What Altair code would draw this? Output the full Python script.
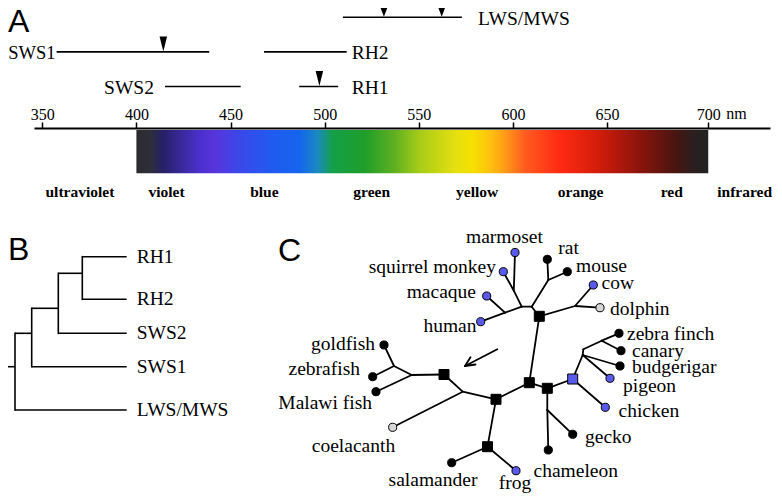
import altair as alt
import pandas as pd

# ---------------- Panel A: opsin sensitivity ranges (nm) ----------------
opsins = ["LWS/MWS", "SWS1", "RH2", "SWS2", "RH1"]
opsin_row = [0, 1, 1, 2, 2]
range_start_nm = [509.7, 357.6, 467.8, 415.2, 486.5]
range_end_nm = [572.9, 438.7, 511.7, 455.4, 507.2]

lmax_opsin = ["SWS1", "RH1", "LWS/MWS", "LWS/MWS"]
lmax_nm = [414.3, 497.2, 531.5, 562.2]

axis_ticks_nm = [350, 400, 450, 500, 550, 600, 650, 700]
color_names = ["ultraviolet", "violet", "blue", "green", "yellow", "orange", "red", "infrared"]
color_center_nm = [370, 416, 468, 525, 581, 636, 682, 718]

spectrum_start_nm = [400]
spectrum_end_nm = [700]

# ---------------- Panel B: opsin family tree ----------------
b_nodes = ["root", "n1", "LWS/MWS", "n2", "SWS1", "n3", "SWS2", "RH1", "RH2"]
b_parent = [None, "root", "root", "n1", "n1", "n2", "n2", "n3", "n3"]

# ---------------- Panel C: rhodopsin tree of species ----------------
species = ["marmoset", "squirrel monkey", "macaque", "human", "rat", "mouse", "cow",
           "dolphin", "zebra finch", "canary", "budgerigar", "pigeon", "chicken",
           "gecko", "chameleon", "frog", "salamander", "coelacanth", "Malawi fish",
           "zebrafish", "goldfish"]
species_group = ["blue", "blue", "blue", "blue", "black", "black", "blue",
                 "gray", "black", "black", "black", "blue", "blue",
                 "black", "black", "blue", "black", "gray", "black",
                 "black", "black"]
squares = ["S1", "S2", "S3", "S4", "S5", "S6", "S7"]
square_group = ["black", "black", "black", "black", "black", "blue", "black"]
c_edges = [("marmoset", "Jms"), ("squirrel monkey", "Jms"), ("Jms", "Jp"),
           ("human", "Jhm"), ("macaque", "Jhm"), ("Jhm", "Jp"), ("Jp", "Jr"),
           ("rat", "Jrod"), ("mouse", "Jrod"), ("Jrod", "Jr"), ("Jr", "S1"),
           ("S1", "Jcd"), ("cow", "Jcd"), ("dolphin", "Jcd"), ("S1", "S3"),
           ("S3", "S5"), ("S3", "S4"), ("S5", "S6"), ("S6", "chicken"),
           ("S6", "Jbb"), ("Jbb", "Jb"), ("Jb", "Jzc"), ("Jzc", "zebra finch"),
           ("Jzc", "canary"), ("Jbb", "budgerigar"), ("Jbb", "pigeon"),
           ("S5", "Jg"), ("Jg", "chameleon"), ("Jg", "gecko"), ("S4", "S7"),
           ("S7", "salamander"), ("S7", "frog"), ("S4", "Jc"), ("Jc", "coelacanth"),
           ("Jc", "S2"), ("S2", "Jf"), ("Jf", "Malawi fish"), ("Jf", "Jgz"),
           ("Jgz", "goldfish"), ("Jgz", "zebrafish"),
           ("arrow_tail", "arrow_tip"), ("arrow_tip", "barb1"), ("arrow_tip", "barb2")]

# ---------------- layout (positions in figure pixels) ----------------
a_label_nm = {"LWS/MWS": 581.5, "SWS1": 357.0, "RH2": 514.4, "SWS2": 409.3, "RH1": 514.4}
a_label_align = {"LWS/MWS": "left", "SWS1": "right", "RH2": "left", "SWS2": "right", "RH1": "left"}
a_label_size = {"LWS/MWS": 19.5, "SWS1": 18.5, "RH2": 19.5, "SWS2": 19.5, "RH1": 19.5}
b_layout = {"root": (15, 366.7), "n1": (31.7, 333.3), "LWS/MWS": (126.7, 410),
            "n2": (58.3, 308.3), "SWS1": (126.7, 366.7), "n3": (82.3, 273.3),
            "SWS2": (126.7, 333.3), "RH1": (126.7, 256.7), "RH2": (126.7, 299.3)}
b_root_stub_x = 6.7
b_label_x = 136.7
c_layout = {
    "marmoset": (515, 252.5), "squirrel monkey": (503.3, 271.7), "macaque": (486.7, 296),
    "human": (480.7, 321.7), "rat": (547.3, 259.3), "mouse": (567.3, 271.7),
    "cow": (593.3, 285), "dolphin": (600, 307.7), "zebra finch": (619, 333.3),
    "canary": (621, 350.7), "budgerigar": (620, 366), "pigeon": (610, 378.3),
    "chicken": (605.3, 407.3), "gecko": (572.7, 434.3), "chameleon": (548.3, 450),
    "frog": (516, 470.7), "salamander": (451.7, 462.7), "coelacanth": (392.7, 427.3),
    "Malawi fish": (376, 391.7), "zebrafish": (372.7, 376.7), "goldfish": (384, 345),
    "S1": (539.3, 316.3), "S2": (444, 374.5), "S3": (529.3, 382.7), "S4": (496, 399.3),
    "S5": (547.3, 388.3), "S6": (572.7, 379), "S7": (487.5, 446.7),
    "Jms": (513.8, 290.7), "Jhm": (505, 312.7), "Jp": (521.7, 306.7), "Jr": (531.7, 306.7),
    "Jrod": (548.3, 280), "Jcd": (575, 306), "Jb": (583.3, 349.3), "Jzc": (601.7, 340.7),
    "Jbb": (582.7, 355), "Jg": (547.3, 410), "Jc": (462.7, 391.7), "Jf": (411.7, 375),
    "Jgz": (394, 366),
    "arrow_tail": (497.3, 349.3), "arrow_tip": (465, 366), "barb1": (475.5, 364.5),
    "barb2": (470.5, 357.3),
}
c_label = {
    "marmoset": (504.5, 237.2, "center"), "squirrel monkey": (496, 267, "right"),
    "macaque": (476, 292, "right"), "human": (476.5, 326, "right"),
    "rat": (558.3, 248, "left"), "mouse": (576, 266, "left"), "cow": (601.5, 283, "left"),
    "dolphin": (610, 308.5, "left"), "zebra finch": (627, 334, "left"),
    "canary": (632, 350.5, "left"), "budgerigar": (632, 367, "left"),
    "pigeon": (623, 386, "left"), "chicken": (618.5, 410.5, "left"),
    "gecko": (585, 436.5, "left"), "chameleon": (533.5, 470.5, "left"),
    "frog": (515, 483.2, "center"), "salamander": (433, 479.5, "center"),
    "coelacanth": (353.5, 446, "center"), "Malawi fish": (372, 402.5, "right"),
    "zebrafish": (360, 368.5, "right"), "goldfish": (375, 343.5, "right"),
}
panel_letters = ["A", "B", "C"]
panel_letter_xy = [(8, 32), (8, 260), (278, 261)]

SERIF = "Liberation Serif"
SANS = "Liberation Sans"
LABEL_SIZE = 19.5
BLUE = "#5a5aea"
GRAY = "#d6d6d6"
LINE_W = 1.8

# ---------------- scales ----------------
PX = alt.Scale(domain=[8, 774], range=[0, 766], nice=False, zero=False)
PY = alt.Scale(domain=[8, 493], range=[0, 485], nice=False, zero=False)
NM = alt.Scale(domain=[345.6, 650, 730.5], range=[26, 599, 762], nice=False, zero=False)
ROW = alt.Scale(domain=[0, 2], range=[9.3, 78.5], nice=False, zero=False)
GROUP = alt.Scale(domain=["blue", "black", "gray"], range=[BLUE, "black", GRAY])


def xpx(f):
    return alt.X(f, type="quantitative", scale=PX, axis=None)


def ypx(f):
    return alt.Y(f, type="quantitative", scale=PY, axis=None)


layers = []

# ---- Panel A ----
rng = pd.DataFrame({"opsin": opsins, "row": opsin_row, "start": range_start_nm, "end": range_end_nm})
rng["lab_nm"] = rng["opsin"].map(a_label_nm)
rng["align"] = rng["opsin"].map(a_label_align)
rng["fs"] = rng["opsin"].map(a_label_size)

layers.append(alt.Chart(rng).mark_rule(color="black", strokeWidth=1.6).encode(
    x=alt.X("start:Q", scale=NM, axis=None), x2="end:Q",
    y=alt.Y("row:Q", scale=ROW, axis=None)))

for al in ["left", "right"]:
    for fs in sorted(set(a_label_size.values())):
        sub = rng[(rng["align"] == al) & (rng["fs"] == fs)]
        if len(sub) == 0:
            continue
        layers.append(alt.Chart(sub).mark_text(
            align=al, baseline="middle", font=SERIF, fontSize=fs, color="black", dy=1.5).encode(
            x=alt.X("lab_nm:Q", scale=NM, axis=None),
            y=alt.Y("row:Q", scale=ROW, axis=None), text="opsin:N"))

tri = pd.DataFrame({"opsin": lmax_opsin, "lmax": lmax_nm})
tri["row"] = tri["opsin"].map(dict(zip(opsins, opsin_row)))
# the top row sits close to the page edge: a shorter arrowhead keeps it whole
layers.append(alt.Chart(tri[tri["row"] > 0]).mark_point(
    shape="M-0.5,-2L0.5,-2L0,0Z", size=225, filled=True, color="black", opacity=1, yOffset=-0.5).encode(
    x=alt.X("lmax:Q", scale=NM, axis=None), y=alt.Y("row:Q", scale=ROW, axis=None)))
layers.append(alt.Chart(tri[tri["row"] == 0]).mark_point(
    shape="M-0.75,-2L0.75,-2L0,0Z", size=88, filled=True, color="black", opacity=1, yOffset=-0.5).encode(
    x=alt.X("lmax:Q", scale=NM, axis=None), y=alt.Y("row:Q", scale=ROW, axis=None)))

stops = [(0.000, "#2b2b2e"), (0.025, "#2e2e3a"), (0.046, "#262066"), (0.110, "#4a30cc"),
         (0.137, "#5834dc"), (0.180, "#3a48ea"), (0.242, "#1f5cf0"), (0.285, "#1565ee"),
         (0.317, "#1a8ac0"), (0.343, "#14a048"), (0.399, "#1f9e2a"), (0.452, "#60b020"),
         (0.496, "#a8cc18"), (0.559, "#e6e010"), (0.588, "#f5e000"), (0.620, "#ffc010"),
         (0.646, "#ff9818"), (0.681, "#ff5a20"), (0.741, "#ff2a12"), (0.811, "#d01c0a"),
         (0.881, "#8a140c"), (0.942, "#4a1510"), (0.977, "#282020"), (1.000, "#222222")]
grad = alt.Gradient(gradient="linear", x1=0, x2=1, y1=0, y2=0,
                    stops=[alt.GradientStop(offset=o, color=c) for o, c in stops])
spec = pd.DataFrame({"start": spectrum_start_nm, "end": spectrum_end_nm, "top": [130], "bottom": [173.3]})
layers.append(alt.Chart(spec).mark_rect(fill=grad).encode(
    x=alt.X("start:Q", scale=NM,
            axis=alt.Axis(orient="top", offset=-120, values=axis_ticks_nm, title=None,
                          grid=False, domainColor="black", domainWidth=2, tickColor="black",
                          tickWidth=1.5, tickSize=6, labelFont=SERIF, labelFontSize=16,
                          labelColor="black", labelBaseline="alphabetic", labelPadding=3,
                          labelAngle=0, labelFlush=False, labelOverlap=False, format="d")),
    x2="end:Q", y=ypx("top"), y2="bottom:Q"))

layers.append(alt.Chart(pd.DataFrame({"nm": [700], "y": [119.3], "t": ["nm"]})).mark_text(
    align="left", baseline="alphabetic", font=SERIF, fontSize=16, color="black", dx=18).encode(
    x=alt.X("nm:Q", scale=NM, axis=None), y=ypx("y"), text="t:N"))

cl = pd.DataFrame({"name": color_names, "nm": color_center_nm, "y": 191.7})
layers.append(alt.Chart(cl).mark_text(
    align="center", baseline="middle", font=SERIF, fontSize=15.5, fontWeight="bold", color="black").encode(
    x=alt.X("nm:Q", scale=NM, axis=None), y=ypx("y"), text="name:N"))

# ---- Panel letters ----
pl = pd.DataFrame({"t": panel_letters, "x": [p[0] for p in panel_letter_xy], "y": [p[1] for p in panel_letter_xy]})
layers.append(alt.Chart(pl).mark_text(
    align="left", baseline="alphabetic", font=SANS, fontSize=32, color="black").encode(
    x=xpx("x"), y=ypx("y"), text="t:N"))

# ---- Panel B ----
b_rows = []
for node, par in zip(b_nodes, b_parent):
    cx, cy = b_layout[node]
    if par is None:
        b_rows.append({"x": b_root_stub_x, "x2": cx, "y": cy, "y2": cy})
    else:
        px_, py_ = b_layout[par]
        b_rows.append({"x": px_, "x2": cx, "y": cy, "y2": cy})
for node in b_nodes:
    kids = [b_layout[n][1] for n, p in zip(b_nodes, b_parent) if p == node]
    if kids:
        x0 = b_layout[node][0]
        b_rows.append({"x": x0, "x2": x0, "y": min(kids) - 0.8, "y2": max(kids) + 0.8})
layers.append(alt.Chart(pd.DataFrame(b_rows)).mark_rule(color="black", strokeWidth=1.6).encode(
    x=xpx("x"), x2="x2:Q", y=ypx("y"), y2="y2:Q"))

leaves = [n for n in b_nodes if n not in b_parent]
bl = pd.DataFrame({"t": leaves, "x": b_label_x, "y": [b_layout[n][1] for n in leaves]})
layers.append(alt.Chart(bl).mark_text(
    align="left", baseline="middle", font=SERIF, fontSize=LABEL_SIZE, color="black").encode(
    x=xpx("x"), y=ypx("y"), text="t:N"))

# ---- Panel C ----
ce = pd.DataFrame([{"x": c_layout[a][0], "y": c_layout[a][1], "x2": c_layout[b][0], "y2": c_layout[b][1]}
                   for a, b in c_edges])
layers.append(alt.Chart(ce).mark_rule(color="black", strokeWidth=LINE_W, strokeCap="round").encode(
    x=xpx("x"), x2="x2:Q", y=ypx("y"), y2="y2:Q"))

sq = pd.DataFrame({"n": squares, "g": square_group,
                   "x": [c_layout[s][0] for s in squares], "y": [c_layout[s][1] for s in squares]})
layers.append(alt.Chart(sq).mark_point(shape="square", size=100, filled=True, stroke="black",
                                        strokeWidth=1, opacity=1).encode(
    x=xpx("x"), y=ypx("y"), fill=alt.Fill("g:N", scale=GROUP, legend=None)))

sp = pd.DataFrame({"n": species, "g": species_group,
                   "x": [c_layout[s][0] for s in species], "y": [c_layout[s][1] for s in species]})
layers.append(alt.Chart(sp).mark_point(shape="circle", size=66, filled=True, stroke="black",
                                        strokeWidth=1, opacity=1).encode(
    x=xpx("x"), y=ypx("y"), fill=alt.Fill("g:N", scale=GROUP, legend=None)))

lab = pd.DataFrame([{"t": s, "x": c_label[s][0], "y": c_label[s][1], "al": c_label[s][2]} for s in species])
for al in ["left", "right", "center"]:
    layers.append(alt.Chart(lab[lab["al"] == al]).mark_text(
        align=al, baseline="middle", font=SERIF, fontSize=LABEL_SIZE, color="black").encode(
        x=xpx("x"), y=ypx("y"), text="t:N"))

chart = alt.layer(*layers).resolve_scale(
    x="independent", y="independent", fill="independent"
).properties(
    width=766, height=485, padding=0, autosize=alt.AutoSizeParams(type="none"), background="white"
).configure_view(stroke=None)

chart.save("out.html", embed_options={"renderer": "svg", "actions": False})
